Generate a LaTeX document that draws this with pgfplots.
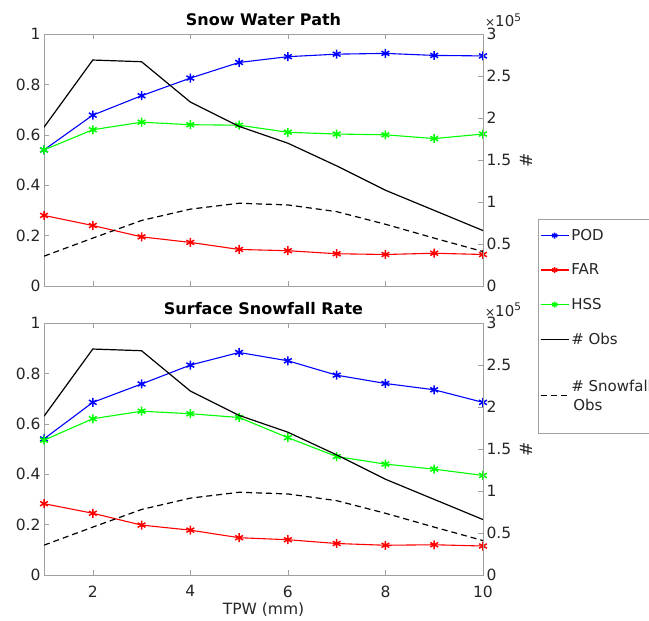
\documentclass[border=0pt]{standalone}
\usepackage{pgfplots}
\pgfplotsset{compat=1.18}
\usepackage{fontspec}
\setmainfont{DejaVu Sans}
\definecolor{axgray}{RGB}{160,160,160}
\definecolor{txtgray}{RGB}{38,38,38}
\pgfplotsset{
  base/.style={
    scale only axis, width=439bp, height=252bp,
    xmin=1, xmax=10,
    axis line style={axgray}, tick style={axgray, thin},
    tick align=inside, major tick length=5bp,
    ticklabel style={font=\fontsize{15.5bp}{17bp}\selectfont, text=txtgray},
    label style={font=\fontsize{15.5bp}{17bp}\selectfont, text=txtgray},
    title style={font=\bfseries\fontsize{16bp}{17bp}\selectfont, yshift=-1bp},
    /pgf/number format/assume math mode=true,
  },
  leftax/.style={base,
    ymin=0, ymax=1, ytick={0,0.2,0.4,0.6,0.8,1},
    xtick={2,4,6,8,10}, ytick pos=left, xtick pos=both,
    xticklabel style={yshift=-7bp},
  },
  rightax/.style={base,
    ymin=0, ymax=300000, ytick={0,50000,100000,150000,200000,250000,300000},
    axis y line*=right, axis x line=none,
    scaled y ticks=manual:{{\fontsize{12bp}{12bp}\selectfont×}10\textsuperscript{5}}{\pgfmathparse{##1/100000}},
    ylabel={\#}, ylabel style={yshift=-2bp, font=\fontsize{17bp}{17bp}\selectfont},
  },
  pod/.style={blue, line width=1.1bp, mark=asterisk, mark size=4.5bp, mark options={solid, line width=1.5bp}},
  far/.style={red, line width=1.1bp, mark=asterisk, mark size=4.5bp, mark options={solid, line width=1.5bp}},
  hss/.style={green, line width=1.1bp, mark=asterisk, mark size=4.5bp, mark options={solid, line width=1.5bp}},
  obs/.style={black, line width=1.2bp},
  sobs/.style={black, line width=1.2bp, dash pattern=on 6bp off 4bp},
}
\pgfplotstableread{
x pod far hss
1 0.540 0.280 0.540
2 0.678 0.240 0.620
3 0.755 0.195 0.650
4 0.825 0.173 0.640
5 0.887 0.145 0.638
6 0.910 0.140 0.610
7 0.920 0.128 0.603
8 0.923 0.125 0.600
9 0.915 0.130 0.585
10 0.913 0.125 0.603
}\swp
\pgfplotstableread{
x pod far hss
1 0.540 0.283 0.535
2 0.685 0.245 0.620
3 0.758 0.198 0.650
4 0.833 0.178 0.640
5 0.883 0.148 0.625
6 0.850 0.140 0.545
7 0.793 0.125 0.470
8 0.760 0.118 0.440
9 0.735 0.120 0.420
10 0.685 0.115 0.395
}\ssr
\pgfplotstableread{
x obs sobs
1 189000 35500
2 269000 57000
3 267000 78000
4 219000 91500
5 190000 98500
6 170000 96500
7 143000 88500
8 114000 73500
9 90000 57000
10 66000 41000
}\counts
\begin{document}
\begin{tikzpicture}
% ---------- top ----------
\begin{axis}[leftax, at={(44bp,335bp)}, anchor=south west, xticklabels={}, title={Snow Water Path}]
\addplot[pod] table[x=x,y=pod]{\swp};
\addplot[far] table[x=x,y=far]{\swp};
\addplot[hss] table[x=x,y=hss]{\swp};
\end{axis}
\begin{axis}[rightax, at={(44bp,335bp)}, anchor=south west,
  every y tick scale label/.append style={at={(rel axis cs:1,1)}, anchor=base west, inner sep=0pt, xshift=2bp, yshift=7bp, font=\fontsize{15bp}{16bp}\selectfont, text=txtgray}]
\addplot[obs] table[x=x,y=obs]{\counts};
\addplot[sobs] table[x=x,y=sobs]{\counts};
\end{axis}
% ---------- bottom ----------
\begin{axis}[leftax, at={(44bp,46bp)}, anchor=south west, title={Surface Snowfall Rate},
  xlabel={TPW (mm)}, xlabel style={yshift=1bp},
  legend style={at={(rel axis cs:1.125,1.4127)}, anchor=north west, draw=axgray,
    font=\fontsize{15bp}{19bp}\selectfont, text=txtgray,
    cells={anchor=west, align=left}, row sep=18bp, inner xsep=2bp, inner ysep=8bp},
  legend image code/.code={\draw[mark repeat=2, mark phase=2, #1, mark size=3bp] plot coordinates {(0bp,0bp) (14bp,0bp) (28bp,0bp)};}]
\addplot[pod] table[x=x,y=pod]{\ssr};
\addlegendentry{POD}
\addplot[far] table[x=x,y=far]{\ssr};
\addlegendentry{FAR}
\addplot[hss] table[x=x,y=hss]{\ssr};
\addlegendentry{HSS}
\addlegendimage{obs}
\addlegendentry{\# Obs}
\addlegendimage{sobs}
\addlegendentry[inner ysep=14bp]{\# Snowfall\\\hspace*{2bp}Obs}
\end{axis}
\begin{axis}[rightax, at={(44bp,46bp)}, anchor=south west,
  every y tick scale label/.append style={at={(rel axis cs:1,1)}, anchor=base west, inner sep=0pt, xshift=2bp, yshift=7bp, font=\fontsize{15bp}{16bp}\selectfont, text=txtgray}]
\addplot[obs] table[x=x,y=obs]{\counts};
\addplot[sobs] table[x=x,y=sobs]{\counts};
\end{axis}
\pgfresetboundingbox
\path (0,0) rectangle (649bp,621bp);
\end{tikzpicture}
\end{document}
